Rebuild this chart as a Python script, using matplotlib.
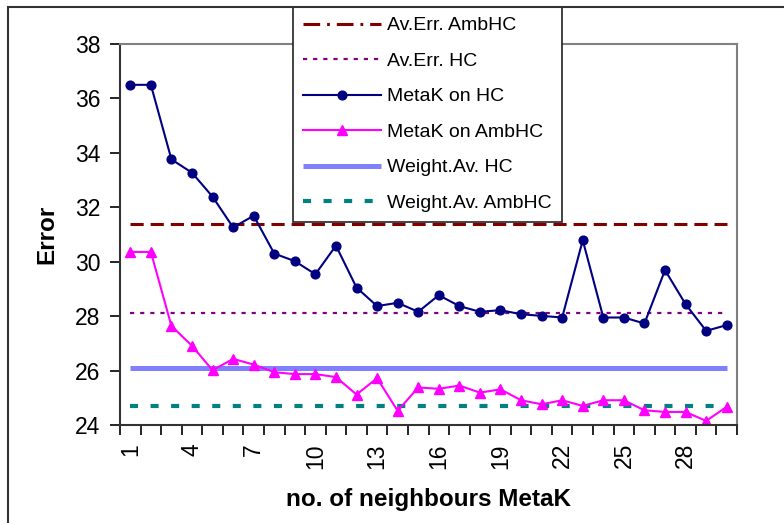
import matplotlib
matplotlib.use('Agg')
import matplotlib.pyplot as plt
from matplotlib.lines import Line2D
from matplotlib.patches import Rectangle

plt.rcParams['font.family'] = ['Liberation Sans', 'DejaVu Sans']
plt.rcParams['lines.scale_dashes'] = False

# neighbours 1..30
k = list(range(1, 31))
metak_hc = [36.5, 36.5, 33.76, 33.27, 32.39, 31.26, 31.69, 30.30, 30.02, 29.54,
            30.59, 29.05, 28.37, 28.49, 28.16, 28.77, 28.37, 28.16, 28.22, 28.07,
            28.01, 27.95, 30.79, 27.95, 27.95, 27.73, 29.69, 28.44, 27.46, 27.67]
metak_ambhc = [30.36, 30.36, 27.64, 26.91, 26.01, 26.43, 26.22, 25.94, 25.87, 25.87,
               25.76, 25.12, 25.72, 24.52, 25.38, 25.33, 25.45, 25.19, 25.31, 24.91,
               24.76, 24.91, 24.70, 24.91, 24.91, 24.54, 24.48, 24.48, 24.15, 24.67]
av_err_ambhc = 31.37
av_err_hc = 28.11
weight_av_hc = 26.08
weight_av_ambhc = 24.70
tick_labels = [1, 4, 7, 10, 13, 16, 19, 22, 25, 28]

fig = plt.figure(figsize=(7.84, 5.23), dpi=100)
ax = fig.add_axes([120/784, 1-425/523, 617/784, 381/523])

n = len(k)
l1, = ax.plot(k, [av_err_ambhc]*n, color='#800000', lw=2.2, dashes=(9.5, 5))
l2, = ax.plot(k, [av_err_hc]*n, color='#800080', lw=1.6, dashes=(3, 4.3))
l5, = ax.plot(k, [weight_av_hc]*n, color='#8080FF', lw=3.6, solid_capstyle='butt')
l6, = ax.plot(k, [weight_av_ambhc]*n, color='#008080', lw=3, dashes=(5.8, 9))
l3, = ax.plot(k, metak_hc, color='#000080', lw=1.5, marker='o', ms=6.3)
l4, = ax.plot(k, metak_ambhc, color='#FF00FF', lw=1.5, marker='^', ms=7.5)

ax.set_xlim(0.5, 30.5)
ax.set_ylim(24, 38)
ax.set_yticks(range(24, 39, 2))
ax.set_xticks([i + 0.5 for i in range(0, 31)])
ax.set_xticklabels([])
ax.set_xticks(tick_labels, minor=True)
ax.set_xticklabels([str(t) for t in tick_labels], minor=True, rotation=90, fontsize=16.5)
ax.tick_params(axis='x', which='minor', length=0, pad=13)
ax.tick_params(axis='x', which='major', length=7, width=1.2, direction='out')
ax.tick_params(axis='y', length=7, width=1.2, direction='out', labelsize=16.5, pad=7)

for s in ['top', 'right']:
    ax.spines[s].set_color('#808080')
    ax.spines[s].set_linewidth(1.5)
for s in ['left', 'bottom']:
    ax.spines[s].set_color('#333333')
    ax.spines[s].set_linewidth(1.5)

ax.set_ylabel('Error', fontsize=17.5, fontweight='bold', labelpad=12)
ax.set_xlabel('no. of neighbours MetaK', fontsize=17.5, fontweight='bold', labelpad=14)

# legend handle for the dash-dot entry
h1 = Line2D([], [], color='#800000', lw=2.2, dashes=(12, 5, 2, 5))
leg = ax.legend([h1, l2, l3, l4, l5, l6],
                ['Av.Err. AmbHC', 'Av.Err. HC', 'MetaK on HC', 'MetaK on AmbHC',
                 'Weight.Av. HC', 'Weight.Av. AmbHC'],
                loc='upper left', bbox_to_anchor=(293/784, 1-7/523),
                bbox_transform=fig.transFigure, borderaxespad=0,
                fontsize=14, handlelength=4.0, labelspacing=0.92,
                fancybox=False, framealpha=1, edgecolor='#222222',
                borderpad=0.5, handletextpad=0.35)
leg.get_frame().set_linewidth(1.2)

fig.patches.append(Rectangle((8/784, -0.2), 1.2, 1.2 - 7/523, transform=fig.transFigure,
                             fill=False, edgecolor='#333333', lw=1.5))

fig.savefig('out.png', dpi=100)
